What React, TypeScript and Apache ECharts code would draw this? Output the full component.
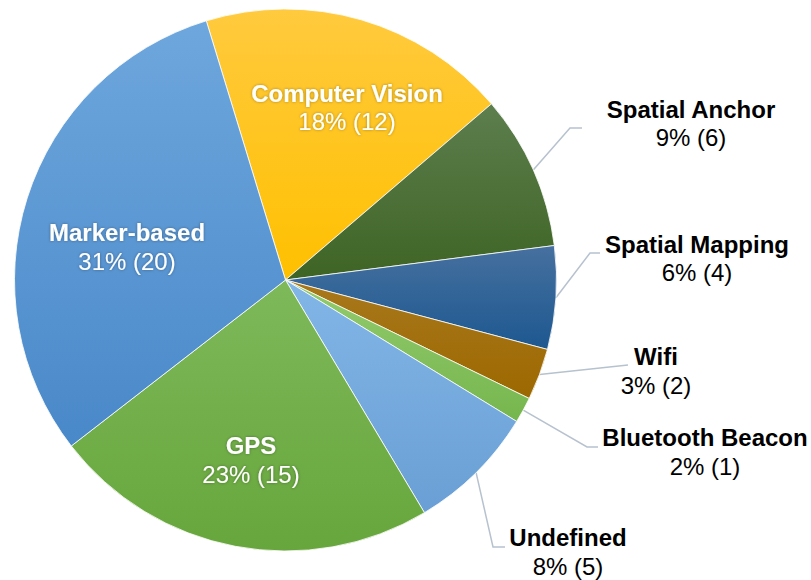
import React, { useEffect, useRef } from 'react';
import * as echarts from 'echarts';

// ---- data ----
const categories = ['Computer Vision', 'Spatial Anchor', 'Spatial Mapping', 'Wifi', 'Bluetooth Beacon', 'Undefined', 'GPS', 'Marker-based'];
const counts = [12, 6, 4, 2, 1, 5, 15, 20];
const insideLabel = [true, false, false, false, false, false, true, true];

// ---- styles ----
const topColors = ['#FFCA3E', '#5D7E4E', '#46709F', '#A8781C', '#93CB6E', '#82B6E7', '#7EB95A', '#6EA7DD'];
const baseColors = ['#FFC000', '#3E6424', '#1D5890', '#9C6800', '#76B64E', '#6A9FD5', '#67A63C', '#4988C9'];

// ---- layout ----
const CX = 285.5;
const CY = 280;
const R = 271;
const START = 107;
const labelCenters: number[][] = [[347, 107.5], [691, 123.5], [697, 258.5], [656, 371], [705, 452], [568, 552], [251, 460], [127, 247]];
const leaderBends: (number[][] | null)[] = [
  null,
  [[570, 128], [582, 128]],
  [[590, 253], [600, 253]],
  [[628, 365]],
  [[587, 447], [598, 447]],
  [[493, 547], [505, 547]],
  null,
  null,
];

const FONT = '"Liberation Sans", Arial, sans-serif';

export default function App() {
  const ref = useRef<HTMLDivElement>(null);
  useEffect(() => {
    document.body.style.margin = '0';
    const chart = echarts.init(ref.current!, null, { renderer: 'svg' });
    const total = counts.reduce((a, b) => a + b, 0);
    let acc = 0;
    const mids = counts.map((c) => {
      const m = START - ((acc + c / 2) / total) * 360;
      acc += c;
      return m;
    });
    const shadow = { textShadowColor: 'rgba(0,0,0,0.35)', textShadowBlur: 3 };
    const richWhite = {
      n: { fontFamily: FONT, fontSize: 24, fontWeight: 'bold', color: '#ffffff', lineHeight: 28.5, ...shadow },
      v: { fontFamily: FONT, fontSize: 24, color: '#ffffff', lineHeight: 28.5, ...shadow },
    };
    const richBlack = {
      n: { fontFamily: FONT, fontSize: 24, fontWeight: 'bold', color: '#000000', lineHeight: 28.5 },
      v: { fontFamily: FONT, fontSize: 24, color: '#000000', lineHeight: 28.5 },
    };
    const data = categories.map((name, i) => ({
      name,
      value: counts[i],
      itemStyle: {
        color: new echarts.graphic.LinearGradient(0, 0, 0, 1, [
          { offset: 0, color: topColors[i] },
          { offset: 1, color: baseColors[i] },
        ]),
      },
      label: {
        position: insideLabel[i] ? 'inside' : 'outside',
        rich: insideLabel[i] ? richWhite : richBlack,
      },
      labelLine: { show: !insideLabel[i] },
    }));
    chart.setOption({
      animation: false,
      series: [
        {
          type: 'pie',
          center: [CX, CY],
          radius: R,
          startAngle: START,
          clockwise: true,
          avoidLabelOverlap: false,
          itemStyle: { borderColor: '#ffffff', borderWidth: 0.8 },
          label: {
            show: true,
            fontFamily: FONT,
            formatter: (p: any) => `{n|${p.name}}\n{v|${Math.round(p.percent)}% (${p.value})}`,
          },
          labelLine: { show: true, lineStyle: { color: '#B7C2CF', width: 1.5 } },
          labelLayout: (p: any) => {
            const i = p.dataIndex;
            const [x, y] = labelCenters[i];
            const out: any = { x, y, align: 'center', verticalAlign: 'middle' };
            const bends = leaderBends[i];
            if (bends) {
              const a = (mids[i] * Math.PI) / 180;
              const edge = [CX + R * Math.cos(a), CY - R * Math.sin(a)];
              out.labelLinePoints = [edge, ...bends];
            }
            return out;
          },
          data,
        },
      ],
    });
    return () => chart.dispose();
  }, []);
  return <div ref={ref} style={{ position: 'absolute', left: 0, top: 0, width: 811, height: 580 }} />;
}
